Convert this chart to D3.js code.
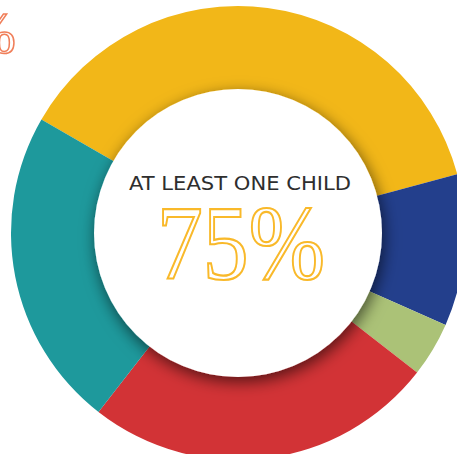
<!DOCTYPE html>
<html><head><meta charset="utf-8">
<script src="https://cdn.jsdelivr.net/npm/d3@7"></script>
<style>html,body{margin:0;padding:0;background:#fff;overflow:hidden}</style>
</head><body>
<svg id="chart" width="457" height="454"></svg>
<script>
const categories = ["Segment A", "Segment B", "Segment C", "Segment D", "Segment E"];
const values = [37.5, 10.8, 3.9, 25, 22.8];
const colors = ["#F2B718", "#233F8C", "#ABC277", "#D23336", "#1E999C"];
const centerLabel = "AT LEAST ONE CHILD";
const centerValue = "75%";
const sideLabel = "%";

const svg = d3.select("#chart");
const cx = 238, cy = 233, R = 227, r = 144;

const defs = svg.append("defs");
const f = defs.append("filter").attr("id", "sh").attr("x", "-30%").attr("y", "-30%").attr("width", "160%").attr("height", "160%");
f.append("feDropShadow").attr("dx", 2).attr("dy", 5).attr("stdDeviation", 8)
  .attr("flood-color", "#000").attr("flood-opacity", 0.6);

const pie = d3.pie().sort(null).value(d => d)
  .startAngle(-60 * Math.PI / 180).endAngle(300 * Math.PI / 180);
const arc = d3.arc().innerRadius(r - 20).outerRadius(R);

const g = svg.append("g").attr("transform", `translate(${cx},${cy})`);
g.selectAll("path").data(pie(values)).join("path")
  .attr("d", arc).attr("fill", (d, i) => colors[i]);

g.append("circle").attr("r", r).attr("fill", "#fff").attr("filter", "url(#sh)");

g.append("text").attr("x", 2).attr("y", -43)
  .attr("text-anchor", "middle")
  .attr("font-family", "'DejaVu Sans', sans-serif")
  .attr("font-size", 19).attr("fill", "#2e2e2e")
  .attr("textLength", 222).attr("lengthAdjust", "spacingAndGlyphs")
  .text(centerLabel);

g.append("text").attr("x", 3).attr("y", 46)
  .attr("text-anchor", "middle")
  .attr("font-family", "'Liberation Serif', serif")
  .attr("font-size", 106).attr("fill", "#fff")
  .attr("stroke", "#F9B92A").attr("stroke-width", 2.2)
  .attr("textLength", 168).attr("lengthAdjust", "spacingAndGlyphs")
  .text(centerValue);

svg.append("text").attr("x", 16).attr("y", 53)
  .attr("text-anchor", "end")
  .attr("font-family", "'Liberation Serif', serif")
  .attr("font-size", 60).attr("fill", "#fff")
  .attr("stroke", "#F07F5A").attr("stroke-width", 1.5)
  .text(sideLabel);
</script>
</body></html>
